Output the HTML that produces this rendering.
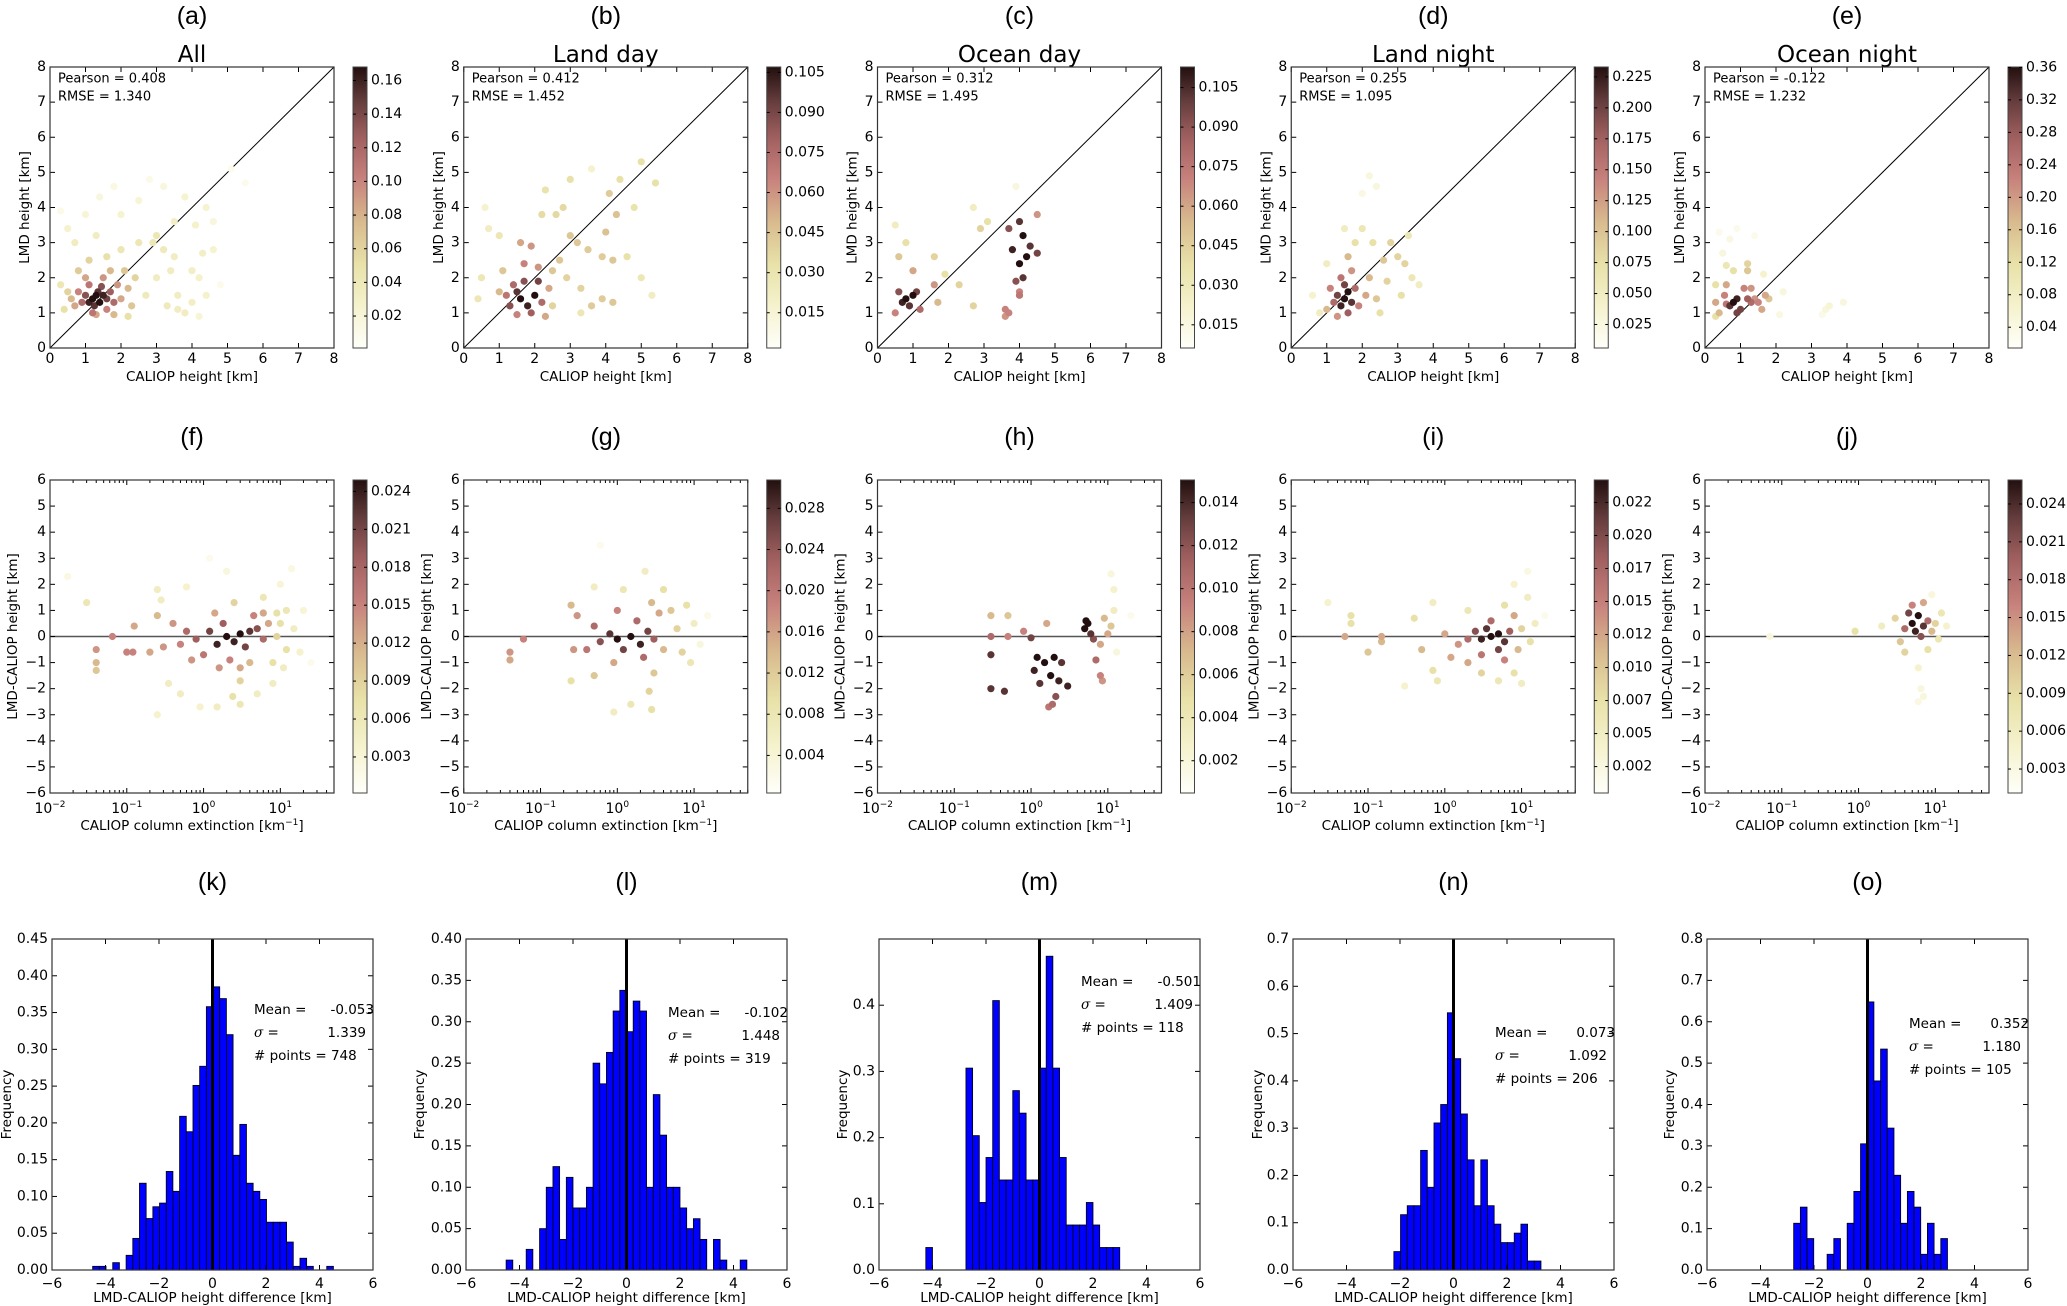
<!DOCTYPE html>
<html><head><meta charset="utf-8"><style>
html,body{margin:0;padding:0;background:#fff}
svg{display:block;font-family:"DejaVu Sans","Liberation Sans",sans-serif}
</style></head><body>
<svg id="fig" width="2067" height="1306" viewBox="0 0 2067 1306" xmlns="http://www.w3.org/2000/svg">
<defs>
<linearGradient id="cmapGrad" x1="0" y1="1" x2="0" y2="0">
<stop offset="0" stop-color="rgb(255,255,250)"/><stop offset="0.15" stop-color="rgb(245,242,205)"/>
<stop offset="0.3" stop-color="rgb(232,225,168)"/><stop offset="0.45" stop-color="rgb(216,186,142)"/>
<stop offset="0.6" stop-color="rgb(200,130,125)"/><stop offset="0.75" stop-color="rgb(160,95,95)"/>
<stop offset="0.88" stop-color="rgb(100,60,60)"/><stop offset="1" stop-color="rgb(35,15,15)"/>
</linearGradient>
</defs>
</svg>
<script>
// ---------- DATA ----------
const panelLetters = ["a","b","c","d","e","f","g","h","i","j","k","l","m","n","o"];
const panelTitles = ["All","Land day","Ocean day","Land night","Ocean night"];
const pearsonVals = ["0.408","0.412","0.312","0.255","-0.122"];
const rmseVals = ["1.340","1.452","1.495","1.095","1.232"];
const heightTicks = [0,1,2,3,4,5,6,7,8];
const diffTicks = [-6,-5,-4,-3,-2,-1,0,1,2,3,4,5,6];
const logTickExps = [-2,-1,0,1];
const histXTicks = [-6,-4,-2,0,2,4,6];

// colorbar ranges and ticks (row 1)
const cbRange1 = [[0.001,0.168],[0.0018,0.107],[0.0062,0.1128],[0.006,0.233],[0.0144,0.3605]];
const cbTicksA = [0.02,0.04,0.06,0.08,0.10,0.12,0.14,0.16];
const cbTicksB = [0.015,0.030,0.045,0.060,0.075,0.090,0.105];
const cbTicksC = [0.015,0.030,0.045,0.060,0.075,0.090,0.105];
const cbTicksD = [0.025,0.050,0.075,0.100,0.125,0.150,0.175,0.200,0.225];
const cbTicksE = [0.04,0.08,0.12,0.16,0.20,0.24,0.28,0.32,0.36];
// row 2
const cbRange2 = [[0.00015,0.0249],[0.00035,0.03075],[0.0005,0.01505],[0.0005,0.0242],[0.0011,0.0259]];
const cbTicksF = [0.003,0.006,0.009,0.012,0.015,0.018,0.021,0.024];
const cbTicksG = [0.004,0.008,0.012,0.016,0.020,0.024,0.028];
const cbTicksH = [0.002,0.004,0.006,0.008,0.010,0.012,0.014];
const cbTicksI = [0.0025,0.005,0.0075,0.010,0.0125,0.015,0.0175,0.020,0.0225];
const cbTicksJ = [0.003,0.006,0.009,0.012,0.015,0.018,0.021,0.024];

// scatter points [x, y, relative density]
const ptsA = [[1.2,1.4,1],[1.3,1.5,1],[1.4,1.3,1],[1.1,1.3,.95],[1.5,1.5,.95],[1.35,1.6,.9],[1.25,1.2,.9],[1.6,1.4,.85],[1.0,1.5,.8],[1.45,1.75,.8],[1.7,1.6,.75],[0.9,1.3,.7],[1.2,1.0,.65],[1.8,1.3,.7],[1.6,1.1,.6],[0.8,1.6,.6],[1.1,1.8,.65],[1.9,1.8,.55],[2.0,1.4,.5],[0.7,1.2,.5],[1.5,2.0,.55],[1.0,2.0,.5],[2.2,1.7,.45],[1.7,2.2,.45],[0.6,1.4,.45],[1.3,0.95,.5],[2.1,2.2,.4],[0.8,2.2,.38],[2.3,1.2,.4],[1.8,0.95,.45],[0.5,1.6,.35],[2.4,2.0,.35],[0.4,1.1,.3],[1.1,2.5,.35],[0.3,1.8,.25],[1.6,2.6,.3],[2.0,2.8,.25],[0.7,3.0,.2],[1.3,3.2,.2],[2.5,3.0,.25],[3.0,3.2,.25],[3.2,2.8,.22],[3.5,2.6,.2],[3.0,2.0,.2],[3.6,1.5,.2],[3.8,1.0,.2],[4.0,2.2,.18],[4.3,2.7,.18],[4.1,3.5,.16],[3.8,4.3,.14],[4.4,4.0,.14],[2.7,1.5,.22],[3.3,1.2,.22],[4.4,1.5,.16],[4.6,2.8,.14],[2.0,3.8,.14],[1.0,3.8,.12],[2.5,4.2,.12],[1.8,4.6,.08],[3.2,4.6,.1],[0.5,3.4,.15],[2.8,4.8,.06],[0.3,3.9,.06],[1.4,4.3,.1],[5.1,5.1,.05],[5.5,4.7,.05],[4.8,1.8,.05],[4.2,0.9,.12],[2.2,0.9,.3],[3.5,3.6,.18],[4.6,3.6,.1],[3.6,1.1,.2],[4.0,1.3,.18],[2.9,3.0,.25],[3.4,2.2,.2],[4.2,2.0,.16]];
const ptsB = [[1.6,1.4,1],[2.0,1.5,1],[1.8,1.2,.95],[1.5,1.6,.9],[2.1,1.9,.85],[1.3,1.2,.8],[1.7,1.9,.8],[1.9,1.0,.75],[2.2,1.3,.7],[1.4,1.8,.7],[1.2,1.5,.65],[1.7,2.4,.6],[1.9,2.9,.55],[1.6,3.0,.5],[2.1,2.3,.55],[2.4,1.7,.5],[1.0,1.6,.45],[2.3,0.9,.5],[1.5,0.95,.6],[1.1,2.2,.4],[2.5,2.2,.4],[2.7,2.5,.4],[3.0,3.2,.4],[3.2,3.0,.4],[3.5,2.8,.38],[3.9,2.6,.38],[4.2,2.5,.4],[4.0,3.3,.42],[4.3,3.8,.42],[4.1,4.4,.38],[3.9,1.4,.38],[4.2,1.3,.4],[3.6,1.2,.38],[2.9,2.0,.35],[3.3,1.7,.35],[2.6,3.8,.33],[2.2,3.8,.32],[2.8,4.0,.33],[3.0,4.8,.3],[2.3,4.5,.28],[4.4,4.8,.3],[5.0,5.3,.3],[5.4,4.7,.3],[4.8,4.0,.28],[5.0,2.0,.25],[5.3,1.5,.2],[3.3,1.0,.25],[1.0,3.2,.25],[0.7,3.4,.2],[0.5,2.0,.25],[0.4,1.4,.25],[0.6,4.0,.15],[3.6,5.1,.15],[2.5,1.2,.35],[4.6,2.6,.3]];
const ptsC = [[0.8,1.4,1],[1.0,1.5,1],[0.7,1.3,.95],[0.9,1.2,.9],[1.1,1.6,.85],[0.6,1.6,.8],[1.2,1.1,.7],[0.5,1.0,.6],[1.0,2.2,.5],[1.6,1.8,.55],[1.7,1.3,.45],[0.6,2.6,.4],[0.8,3.0,.3],[0.5,3.5,.2],[1.6,2.6,.35],[1.9,2.1,.3],[2.3,1.8,.35],[2.7,1.2,.35],[2.9,3.4,.35],[3.1,3.6,.3],[2.7,4.0,.2],[4.0,3.6,.9],[4.1,3.2,1],[3.8,2.8,.95],[4.2,2.6,1],[4.0,2.4,1],[4.1,2.0,.9],[3.9,1.9,.8],[4.3,2.9,.9],[4.5,2.7,.85],[3.7,3.4,.8],[4.0,1.6,.6],[3.6,1.1,.6],[3.6,0.9,.55],[3.7,1.0,.6],[4.5,3.8,.55],[4.0,1.5,.65],[3.9,4.6,.1]];
const ptsD = [[1.5,1.4,1],[1.6,1.6,1],[1.4,1.2,.95],[1.7,1.3,.9],[1.3,1.5,.85],[1.5,1.8,.85],[1.6,1.0,.75],[1.2,1.3,.7],[1.8,1.7,.7],[1.4,2.0,.65],[1.9,1.2,.6],[1.1,1.7,.6],[1.3,0.9,.55],[1.7,2.2,.55],[2.1,1.5,.5],[1.0,1.1,.45],[2.2,2.0,.45],[1.6,2.6,.45],[2.4,1.4,.4],[2.6,2.5,.4],[2.8,3.0,.35],[3.0,2.6,.35],[3.2,2.4,.35],[2.3,3.0,.3],[2.7,1.9,.35],[3.1,1.5,.3],[2.5,1.0,.3],[3.4,2.0,.25],[3.6,1.8,.2],[2.0,3.4,.25],[1.5,3.4,.2],[1.0,2.4,.2],[0.6,1.5,.15],[0.8,1.0,.2],[2.2,4.9,.1],[2.4,4.6,.1],[2.0,4.4,.08],[3.3,3.2,.25],[1.8,3.0,.3]];
const ptsE = [[0.8,1.3,1],[0.9,1.4,.95],[0.7,1.2,.9],[0.9,1.0,.85],[1.0,1.1,.85],[1.2,1.4,.75],[1.3,1.3,.7],[0.6,1.25,.65],[1.1,1.7,.6],[0.55,1.5,.6],[1.4,1.4,.55],[1.5,1.3,.6],[1.7,1.5,.5],[1.6,1.1,.5],[0.3,1.3,.5],[0.4,1.0,.45],[0.6,1.8,.5],[1.3,1.7,.55],[1.2,2.2,.4],[1.2,2.4,.35],[0.8,2.2,.3],[0.6,2.35,.25],[0.3,1.8,.3],[0.3,0.9,.3],[1.8,1.4,.4],[1.65,2.1,.15],[2.2,1.6,.1],[2.1,0.95,.08],[3.5,1.2,.12],[3.4,1.1,.1],[3.9,1.3,.1],[3.3,0.95,.06],[0.5,2.7,.1],[0.7,3.1,.08],[0.9,3.4,.05],[0.4,3.3,.05],[1.4,3.2,.05]];
const ptsF = [[2,0,1],[3,0.1,1],[1.5,-0.3,.95],[2.5,-0.2,.95],[4,0.2,.9],[1.2,0.2,.85],[3.5,-0.4,.85],[5,0.3,.8],[0.8,-0.1,.75],[1.8,0.5,.75],[6,-0.1,.7],[0.6,0.2,.7],[1,-0.7,.65],[2.2,-0.9,.6],[4.5,0.8,.6],[0.5,-0.3,.6],[0.4,0.5,.55],[0.3,-0.4,.55],[0.7,-0.9,.55],[1.4,0.9,.5],[3,-1.2,.5],[7,0.5,.5],[0.2,-0.6,.5],[0.25,0.8,.45],[0.12,-0.6,.6],[0.1,-0.6,.6],[0.125,0.4,.5],[0.065,0,.6],[0.04,-0.5,.55],[0.04,-1.0,.45],[0.04,-1.3,.4],[9,0,.35],[10,0.5,.3],[12,-0.5,.3],[8,-1.0,.3],[2.5,1.3,.35],[6,1.5,.25],[3,-1.7,.35],[2.4,-2.3,.3],[3,-2.6,.25],[1.5,-2.7,.2],[8,-1.8,.2],[12,1.0,.25],[15,0.3,.2],[20,1.0,.12],[18,-0.6,.15],[10,2.0,.12],[14,2.6,.08],[0.25,1.8,.2],[0.28,1.4,.2],[0.25,-3,.15],[0.35,-1.8,.2],[0.6,1.9,.15],[0.9,-2.7,.15],[2,2.5,.1],[1.2,3.0,.05],[25,-1,.05],[0.03,1.3,.25],[0.017,2.3,.08],[5,-2.2,.2],[0.5,-2.2,.2],[4,-1.0,.45],[1.6,-1.2,.55],[6,0.9,.5],[9,0.9,.3],[11,-1.2,.2]];
const ptsG = [[1,-0.1,1],[1.5,0,1],[2,-0.3,.95],[0.8,0.1,.9],[2.5,0.2,.85],[1.2,-0.5,.85],[0.6,-0.2,.8],[3,-0.1,.75],[1.8,0.6,.7],[0.5,0.4,.7],[2.2,-0.8,.7],[0.4,-0.5,.65],[1,1.0,.6],[0.3,0.8,.55],[0.27,-0.5,.55],[0.25,1.2,.45],[0.9,-1.0,.5],[3.5,0.9,.5],[2.8,1.3,.45],[4,-0.5,.45],[3,-1.4,.4],[2.6,-2.1,.35],[2.8,-2.8,.3],[1.5,-2.6,.25],[0.9,-2.9,.2],[5,1.0,.4],[6,0.3,.35],[7,-0.6,.35],[8,1.2,.3],[9,-1.0,.25],[10,0.5,.2],[4,1.8,.3],[1.2,1.8,.25],[0.5,1.9,.2],[2.3,2.5,.2],[0.6,3.5,.05],[0.04,-0.6,.55],[0.04,-0.9,.5],[0.06,-0.1,.6],[0.25,-1.7,.3],[12,-0.3,.1],[15,0.8,.06],[0.5,-1.5,.4]];
const ptsH = [[1.2,-0.8,1],[1.5,-1.0,1],[2,-0.8,1],[1.1,-1.3,.95],[1.8,-1.5,1],[2.3,-1.7,.95],[1.3,-1.8,.9],[2.1,-2.3,.8],[1.9,-2.6,.7],[1.7,-2.7,.65],[3,-1.9,.95],[2.5,-1.0,.9],[1,-0.05,.85],[0.8,0.2,.6],[1.6,0.5,.5],[0.3,0.8,.45],[0.5,0.8,.4],[0.3,0,.7],[0.5,0,.6],[0.3,-0.7,.9],[0.3,-2.0,.9],[0.45,-2.1,.9],[5,0.3,1],[5.5,0.5,1],[6,0.1,.9],[6.5,-0.1,.8],[5.2,0.6,1],[8,-1.5,.6],[8.5,-1.7,.55],[8,-0.3,.5],[9,0.7,.45],[10,0.1,.5],[11,0.4,.4],[12,1.0,.2],[12,1.8,.15],[11,2.4,.1],[13,-0.6,.1],[20,0.8,.05],[7,-0.9,.7]];
const ptsI = [[4,0,1],[5,0.1,1],[3,-0.1,.95],[6,-0.2,.9],[3.5,0.3,.9],[5,-0.5,.85],[2.5,0.2,.8],[7,0.2,.75],[2,-0.1,.7],[4,0.6,.7],[6,-0.9,.6],[3,-0.7,.65],[1.5,-0.3,.55],[1,0.1,.5],[8,0.8,.5],[9,-0.5,.45],[2,-1.0,.5],[1.2,-0.8,.5],[3,-1.4,.35],[5,-1.7,.25],[8,-1.4,.3],[10,-1.8,.2],[10,0.3,.35],[12,1.5,.2],[13,-0.2,.3],[15,0.5,.2],[8,2.0,.15],[12,2.5,.08],[6,1.2,.3],[2,1.0,.25],[0.7,1.3,.2],[0.7,-1.3,.3],[0.8,-1.7,.25],[0.3,-1.9,.15],[0.15,0,.5],[0.15,-0.2,.45],[0.1,-0.6,.4],[0.06,0.8,.3],[0.06,0.5,.3],[0.05,0,.5],[0.03,1.3,.15],[0.4,0.7,.3],[0.5,-0.5,.45],[20,0.8,.05]];
const ptsJ = [[5,0.5,1],[6,0.8,1],[5.5,0.2,.95],[7,0.4,.9],[4.5,0.9,.85],[6.5,0,.8],[8,0.6,.7],[4,0.3,.7],[5,1.2,.6],[7,1.3,.5],[9,0.2,.45],[10,0.5,.35],[12,0.9,.25],[3.5,-0.2,.4],[3,0.7,.35],[4,-0.6,.35],[8,-0.5,.3],[11,-0.1,.25],[6,-1.2,.15],[6.5,-2.0,.1],[7,-2.3,.1],[6,-2.5,.08],[9,1.6,.1],[0.9,0.2,.3],[0.07,0,.1],[2,0.4,.2],[14,0.4,.15]];

// histograms: first bin left edge, bin width, frequencies
const binWidth = 0.25;
const histStartK = -4.48;
const histK = [.005,.005,0,.01,0,.02,.043,.118,.07,.086,.091,.134,.107,.209,.188,.251,.277,.358,.385,.369,.32,.156,.198,.118,.107,.096,.065,.065,.065,.038,.005,.016,.005,0,0,.005];
const histStartL = -4.5;
const histL = [.012,0,0,.025,0,.05,.1,.125,.037,.112,.075,.075,.1,.25,.225,.263,.313,.338,.288,.325,.313,.1,.212,.163,.1,.1,.075,.05,.062,.037,0,.037,.012,0,0,.012];
const histStartM = -4.25;
const histM = [.034,0,0,0,0,0,.305,.203,.102,.170,.407,.136,.136,.271,.237,.136,.136,.305,.474,.305,.170,.068,.068,.068,.102,.068,.034,.034,.034];
const histStartN = -2.23;
const histN = [.039,.117,.136,.136,.253,.175,.311,.35,.544,.447,.33,.233,.136,.233,.136,.097,.058,.058,.078,.097,.019,.019];
const histStartO = -2.76;
const histO = [.113,.152,.076,0,0,.038,.076,0,.113,.19,.305,.648,.457,.534,.343,.229,.113,.19,.152,.038,.113,.038,.076];
const histYMax = [0.45,0.40,0.5,0.7,0.8];
const histYTicksK = ["0.00","0.05","0.10","0.15","0.20","0.25","0.30","0.35","0.40","0.45"];
const histYTicksL = ["0.00","0.05","0.10","0.15","0.20","0.25","0.30","0.35","0.40"];
const histYTicksM = ["0.0","0.1","0.2","0.3","0.4"];
const histYTicksN = ["0.0","0.1","0.2","0.3","0.4","0.5","0.6","0.7"];
const histYTicksO = ["0.0","0.1","0.2","0.3","0.4","0.5","0.6","0.7","0.8"];
const meanVals = ["-0.053","-0.102","-0.501","0.073","0.352"];
const sigmaVals = ["1.339","1.448","1.409","1.092","1.180"];
const countVals = ["748","319","118","206","105"];

// ---------- DRAWING ----------
const svg = document.getElementById('fig');
const NS = 'http://www.w3.org/2000/svg';
function mk(tag, attrs, parent){ const e=document.createElementNS(NS,tag); for(const k in attrs) e.setAttribute(k,attrs[k]); (parent||svg).appendChild(e); return e; }
function txt(s, x, y, size, anchor, parent, fam){ const t=mk('text',{x:x,y:y,'font-size':size,'text-anchor':anchor||'middle','dominant-baseline':'central',fill:'#000'},parent); if(fam) t.setAttribute('font-family',fam); t.textContent=s; return t; }
const stops=[[0,[255,255,250]],[0.15,[245,242,205]],[0.3,[232,225,168]],[0.45,[216,186,142]],[0.6,[200,130,125]],[0.75,[160,95,95]],[0.88,[100,60,60]],[1,[35,15,15]]];
function cmap(v){ v=Math.max(0,Math.min(1,v)); for(let i=1;i<stops.length;i++){ if(v<=stops[i][0]){ const a=stops[i-1],b=stops[i]; const f=(v-a[0])/(b[0]-a[0]); const c=a[1].map((q,j)=>Math.round(q+(b[1][j]-q)*f)); return 'rgb('+c.join(',')+')'; } } return 'rgb(35,15,15)'; }
const minus = s => String(s).replace('-','\u2212');
function colX(i){ return 50 + 413.75*i; }
const DOT_R = 3.6;

function frameTicks(g, x0, y0, w, h, xs, ys){
  xs.forEach(px=>{ mk('line',{x1:px,y1:y0+h,x2:px,y2:y0+h-5,stroke:'#000','stroke-width':1},g); mk('line',{x1:px,y1:y0,x2:px,y2:y0+5,stroke:'#000','stroke-width':1},g); });
  ys.forEach(py=>{ mk('line',{x1:x0,y1:py,x2:x0+5,y2:py,stroke:'#000','stroke-width':1},g); mk('line',{x1:x0+w,y1:py,x2:x0+w-5,y2:py,stroke:'#000','stroke-width':1},g); });
  mk('rect',{x:x0,y:y0,width:w,height:h,fill:'none',stroke:'#333','stroke-width':1.2},g);
}

function colorbar(g, x, y0, h, range, ticks, labels){
  mk('rect',{x:x,y:y0,width:14,height:h,fill:'url(#cmapGrad)',stroke:'#444','stroke-width':1},g);
  ticks.forEach((t,k)=>{ const py=y0+h-(t-range[0])/(range[1]-range[0])*h;
    mk('line',{x1:x,y1:py,x2:x+3,y2:py,stroke:'#000'},g); mk('line',{x1:x+14,y1:py,x2:x+11,y2:py,stroke:'#000'},g);
    txt(labels[k], x+18, py, 14, 'start', g); });
}

const row1Pts=[ptsA,ptsB,ptsC,ptsD,ptsE];
const row1Ticks=[cbTicksA,cbTicksB,cbTicksC,cbTicksD,cbTicksE];
const row1Fmt=[2,3,3,3,2];
const row2Pts=[ptsF,ptsG,ptsH,ptsI,ptsJ];
const row2Ticks=[cbTicksF,cbTicksG,cbTicksH,cbTicksI,cbTicksJ];
const row2Fmt=[3,3,3,4,3];

for(let i=0;i<5;i++){
  // ---- Row 1 ----
  const x0=colX(i), y0=67, w=284, h=281;
  const g=mk('g',{});  
  const sx=v=>x0+v/8*w, sy=v=>y0+h-v/8*h;
  const lab=txt('('+panelLetters[i]+')', x0+w/2, 16, 25, 'middle', g, '"Liberation Sans",sans-serif');
   
  const tt=mk('text',{x:x0+w/2,y:62,'font-size':23,'text-anchor':'middle'},g); tt.textContent=panelTitles[i];
   
  mk('rect',{x:x0,y:y0,width:w,height:h,fill:'#fff'},g);
  mk('line',{x1:sx(0),y1:sy(0),x2:sx(8),y2:sy(8),stroke:'#000','stroke-width':1},g);
  [...row1Pts[i]].sort((a,b)=>a[2]-b[2]).forEach(p=>{
    const c=mk('circle',{cx:sx(p[0]),cy:sy(p[1]),r:DOT_R,fill:cmap(p[2])},g);
     
  });
  frameTicks(g,x0,y0,w,h,heightTicks.map(sx),heightTicks.map(sy));
  heightTicks.forEach(t=>{ txt(String(t), sx(t), y0+h+11, 14, 'middle', g); txt(String(t), x0-4, sy(t), 14, 'end', g); });
  txt('Pearson = '+pearsonVals[i], x0+8, y0+12, 13, 'start', g);
  txt('RMSE    = '+rmseVals[i], x0+8, y0+30, 13, 'start', g).setAttribute('xml:space','preserve');
  const xl=txt('CALIOP height [km]', x0+w/2, 377, 13.5, 'middle', g);  
  const yl=txt('LMD height [km]', 0, 0, 13.5, 'middle', g); yl.setAttribute('transform','translate('+(x0-25)+','+(y0+h/2)+') rotate(-90)');
   
  const cb=mk('g',{},g);  
  colorbar(cb, x0+303, y0, h, cbRange1[i], row1Ticks[i], row1Ticks[i].map(t=>t.toFixed(row1Fmt[i])));

  // ---- Row 2 ----
  const Y0=480, H2=313;
  const g2=mk('g',{});  
  const lx=v=>x0+(Math.log10(v)+2)/(Math.log10(50)+2)*w, ly=v=>Y0+H2-(v+6)/12*H2;
  const lab2=txt('('+panelLetters[i+5]+')', x0+w/2, 437, 25, 'middle', g2, '"Liberation Sans",sans-serif');
   
  mk('line',{x1:x0,y1:ly(0),x2:x0+w,y2:ly(0),stroke:'#555','stroke-width':1.5},g2);
  [...row2Pts[i]].sort((a,b)=>a[2]-b[2]).forEach(p=>{
    const c=mk('circle',{cx:lx(p[0]),cy:ly(p[1]),r:DOT_R,fill:cmap(p[2])},g2);
     
  });
  const minor=[]; for(let e=-2;e<=1;e++) for(let m=2;m<=9;m++){ const v=m*Math.pow(10,e); if(v<=50) minor.push(lx(v)); }
  minor.forEach(px=>{ mk('line',{x1:px,y1:Y0+H2,x2:px,y2:Y0+H2-3,stroke:'#000'},g2); mk('line',{x1:px,y1:Y0,x2:px,y2:Y0+3,stroke:'#000'},g2); });
  frameTicks(g2,x0,Y0,w,H2,logTickExps.map(e=>lx(Math.pow(10,e))),diffTicks.map(ly));
  logTickExps.forEach(e=>{ const t=mk('text',{x:lx(Math.pow(10,e)),y:Y0+H2+20,'font-size':14,'text-anchor':'middle'},g2);
    t.appendChild(document.createTextNode('10')); const s=mk('tspan',{dy:-6,'font-size':9},t); s.textContent=minus(e); });
  diffTicks.forEach(t=>txt(minus(t), x0-4, ly(t), 14, 'end', g2));
  const xl2=mk('text',{x:x0+w/2,y:830,'font-size':13.5,'text-anchor':'middle'},g2);
  xl2.appendChild(document.createTextNode('CALIOP column extinction [km')); const sp=mk('tspan',{dy:-5,'font-size':9},xl2); sp.textContent='\u22121';
  const sp2=mk('tspan',{dy:5},xl2); sp2.textContent=']';
   
  const yl2=txt('LMD-CALIOP height [km]',0,0,13.5,'middle',g2); yl2.setAttribute('transform','translate('+(x0-37)+','+(Y0+H2/2)+') rotate(-90)');
   
  const cb2=mk('g',{},g2);  
  colorbar(cb2, x0+303, Y0, H2, cbRange2[i], row2Ticks[i], row2Ticks[i].map(t=>t.toFixed(row2Fmt[i]).slice(0,5)));
}

// ---- Row 3 histograms ----
const histVals=[histK,histL,histM,histN,histO];
const histStarts=[histStartK,histStartL,histStartM,histStartN,histStartO];
const histYTickLists=[histYTicksK,histYTicksL,histYTicksM,histYTicksN,histYTicksO];
const histX0=[52,466,879,1293,1707];
const statY=[1010,1013,982,1033,1024];
const freqOffset=[45,46,36,35,37];
for(let i=0;i<5;i++){
  const x0=histX0[i], y0=939, w=321, h=331;
  const g=mk('g',{});  
  const sx=v=>x0+(v+6)/12*w, sy=v=>y0+h-v/histYMax[i]*h;
  const lab=txt('('+panelLetters[i+10]+')', x0+w/2, 882, 25, 'middle', g, '"Liberation Sans",sans-serif');
   
  histVals[i].forEach((v,k)=>{ if(v<=0) return; const a=histStarts[i]+k*binWidth;
    const r=mk('rect',{x:sx(a),y:sy(v),width:sx(a+binWidth)-sx(a),height:sy(0)-sy(v),fill:'#0000ff',stroke:'#000','stroke-width':0.8},g);
      });
  mk('line',{x1:sx(0),y1:y0,x2:sx(0),y2:y0+h,stroke:'#000','stroke-width':3},g);
  const yt=histYTickLists[i].map(Number);
  frameTicks(g,x0,y0,w,h,histXTicks.map(sx),yt.map(sy));
  histXTicks.forEach(t=>txt(minus(t), sx(t), y0+h+14, 14, 'middle', g));
  histYTickLists[i].forEach(s=>txt(s, x0-4, sy(Number(s)), 14, 'end', g));
  txt('Mean =', x0+202, statY[i], 13.5, 'start', g); txt(meanVals[i], x0+322, statY[i], 13.5, 'end', g);
  txt('\u03c3 =', x0+202, statY[i]+23, 13.5, 'start', g, '"DejaVu Serif",serif').setAttribute('font-style','italic');
  txt(sigmaVals[i], x0+314, statY[i]+23, 13.5, 'end', g);
  txt('# points = '+countVals[i], x0+202, statY[i]+46, 13.5, 'start', g);
  const xl=txt('LMD-CALIOP height difference [km]', x0+w/2, 1298, 13.5, 'middle', g);  
  const yl=txt('Frequency',0,0,13.5,'middle',g); yl.setAttribute('transform','translate('+(x0-freqOffset[i])+','+(y0+h/2)+') rotate(-90)');
   
}
</script>
</body></html>
